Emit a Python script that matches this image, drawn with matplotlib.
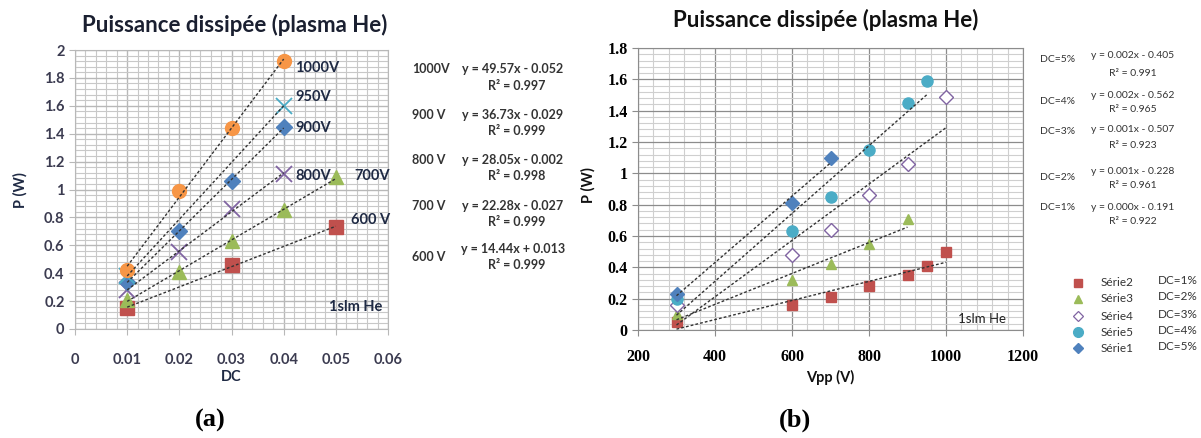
import numpy as np
import matplotlib
matplotlib.use("Agg")
import matplotlib.pyplot as plt
from matplotlib.ticker import MultipleLocator

# ---------------- data (a) ----------------
dc_1000 = [0.01, 0.02, 0.03, 0.04]
p_1000 = [0.42, 0.99, 1.44, 1.92]
dc_950 = [0.01, 0.04]
p_950 = [0.38, 1.60]
dc_900 = [0.01, 0.02, 0.03, 0.04]
p_900 = [0.34, 0.70, 1.06, 1.45]
dc_800 = [0.01, 0.02, 0.03, 0.04]
p_800 = [0.28, 0.55, 0.86, 1.11]
dc_700 = [0.01, 0.02, 0.03, 0.04, 0.05]
p_700 = [0.21, 0.41, 0.63, 0.85, 1.09]
dc_600 = [0.01, 0.03, 0.05]
p_600 = [0.15, 0.46, 0.73]

eq_a_labels = ["1000V", "900 V", "800 V", "700 V", "600 V"]
eq_a_text = ["y = 49.57x - 0.052", "y = 36.73x - 0.029", "y = 28.05x - 0.002",
             "y = 22.28x - 0.027", "y = 14.44x + 0.013"]
r2_a_text = ["R² = 0.997", "R² = 0.999", "R² = 0.998", "R² = 0.999", "R² = 0.999"]

# ---------------- data (b) ----------------
v_s2 = [300, 600, 700, 800, 900, 950, 1000]
p_s2 = [0.05, 0.16, 0.21, 0.28, 0.35, 0.41, 0.50]
v_s3 = [300, 600, 700, 800, 900]
p_s3 = [0.10, 0.32, 0.42, 0.55, 0.71]
v_s4 = [300, 600, 700, 800, 900, 1000]
p_s4 = [0.16, 0.48, 0.64, 0.86, 1.06, 1.49]
v_s5 = [300, 600, 700, 800, 900, 950]
p_s5 = [0.20, 0.63, 0.85, 1.15, 1.45, 1.59]
v_s1 = [300, 600, 700]
p_s1 = [0.23, 0.81, 1.10]

eq_b_labels = ["DC=5%", "DC=4%", "DC=3%", "DC=2%", "DC=1%"]
eq_b_text = ["y = 0.002x - 0.405", "y = 0.002x - 0.562", "y = 0.001x - 0.507",
             "y = 0.001x - 0.228", "y = 0.000x - 0.191"]
r2_b_text = ["R² = 0.991", "R² = 0.965", "R² = 0.923", "R² = 0.961", "R² = 0.922"]

leg_names = ["Série2", "Série3", "Série4", "Série5", "Série1"]
leg_dc = ["DC=1%", "DC=2%", "DC=3%", "DC=4%", "DC=5%"]

# colours
ORANGE = "#F79646"
BLUE = "#4F81BD"
PURPLE = "#8064A2"
GREEN = "#9BBB59"
RED = "#C0504D"
CYAN = "#4BACC6"

W, H = 1201, 438
fig = plt.figure(figsize=(W / 100, H / 100), dpi=100)
fig.patch.set_facecolor("white")

SANS = ["Lato", "DejaVu Sans"]
SERIF = ["Liberation Serif", "DejaVu Serif"]


def px(x, y):
    return x / W, 1 - y / H


def trend(ax, x, y, **kw):
    x = np.asarray(x, float)
    y = np.asarray(y, float)
    m, b = np.polyfit(x, y, 1)
    xs = np.array([x.min(), x.max()])
    ax.plot(xs, m * xs + b, linestyle=(0, (2, 1.5)), color="#333333", lw=1.0, zorder=4, **kw)


# ================= (a) =================
axa = fig.add_axes([75 / W, 1 - 329 / H, (388 - 75) / W, (329 - 50) / H])
axa.set_xlim(0, 0.06)
axa.set_ylim(0, 2)
axa.xaxis.set_major_locator(MultipleLocator(0.01))
axa.xaxis.set_minor_locator(MultipleLocator(0.002))
axa.yaxis.set_major_locator(MultipleLocator(0.2))
axa.yaxis.set_minor_locator(MultipleLocator(0.04))
axa.grid(which="major", color="#b8b8b8", lw=1.0)
axa.grid(which="minor", color="#c8c8c8", lw=0.8)
axa.set_axisbelow(True)
for s in axa.spines.values():
    s.set_color("#b8b8b8")
axa.tick_params(which="minor", length=0)
axa.tick_params(which="major", length=4, color="#b8b8b8", labelsize=10.5, labelcolor="#3b3b50")
axa.set_xticks(np.arange(0, 0.061, 0.01))
axa.set_xticklabels(["0", "0.01", "0.02", "0.03", "0.04", "0.05", "0.06"],
                    fontfamily=SANS, fontweight="bold")
axa.set_yticks(np.arange(0, 2.01, 0.2))
axa.set_yticklabels(["0", "0.2", "0.4", "0.6", "0.8", "1", "1.2", "1.4", "1.6", "1.8", "2"],
                    fontfamily=SANS, fontweight="bold")
axa.tick_params(axis="x", pad=13)

for x, y in [(dc_1000, p_1000), (dc_950, p_950), (dc_900, p_900),
             (dc_800, p_800), (dc_700, p_700), (dc_600, p_600)]:
    trend(axa, x, y)

axa.plot(dc_600, p_600, "s", color=RED, ms=10, zorder=3)
axa.plot(dc_700, p_700, "^", color=GREEN, ms=10, zorder=3)
axa.plot(dc_800, p_800, "x", color=PURPLE, ms=11, mew=1.3, zorder=3)
axa.plot(dc_900, p_900, "D", color=BLUE, ms=8, zorder=3)
axa.plot(dc_950, p_950, "x", color=CYAN, ms=11, mew=1.3, zorder=3)
axa.plot(dc_1000, p_1000, "o", color=ORANGE, ms=10, zorder=3)

lab_kw = dict(fontfamily=SANS, fontweight="bold", fontsize=10.5, color="#1f2a44", va="center")
axa.text(0.0422, 1.87, "1000V", **lab_kw)
axa.text(0.0422, 1.66, "950V", **lab_kw)
axa.text(0.0422, 1.44, "900V", **lab_kw)
axa.text(0.0422, 1.10, "800V", **lab_kw)
axa.text(0.0535, 1.10, "700V", **lab_kw)
axa.text(0.0530, 0.78, "600 V", **lab_kw)
axa.text(0.0487, 0.16, "1slm He", **lab_kw)

fig.text(*px(235, 25), "Puissance dissipée (plasma He)", ha="center", va="center",
         fontfamily=SANS, fontweight="bold", fontsize=16, color="#1a1f30")
fig.text(*px(20, 190), "P (W)", rotation=90, ha="center", va="center",
         fontfamily=SANS, fontweight="bold", fontsize=10.5, color="#1f2a44")
fig.text(*px(231, 377), "DC", ha="center", va="center",
         fontfamily=SANS, fontweight="bold", fontsize=10.5, color="#1f2a44")

eq_y = [(69, 86), (115, 131), (160, 176), (206, 222), (249, 265)]
lab_y = [69, 115, 160, 206, 257]
for lbl, eq, r2, (ey, ry), ly in zip(eq_a_labels, eq_a_text, r2_a_text, eq_y, lab_y):
    fig.text(*px(412, ly), lbl, ha="left", va="center", fontfamily=SANS,
             fontsize=9, color="#333333", fontweight="bold")
    fig.text(*px(513, ey), eq, ha="center", va="center", fontfamily=SANS,
             fontsize=9, color="#333333", fontweight="bold")
    fig.text(*px(517, ry), r2, ha="center", va="center", fontfamily=SANS,
             fontsize=9, color="#333333", fontweight="bold")

fig.text(*px(210, 420), "(a)", ha="center", va="center", fontfamily=SERIF,
         fontweight="bold", fontsize=19)

# ================= (b) =================
axb = fig.add_axes([638 / W, 1 - 330 / H, (1023 - 638) / W, (330 - 48) / H])
axb.set_xlim(200, 1200)
axb.set_ylim(0, 1.8)
axb.xaxis.set_major_locator(MultipleLocator(200))
axb.xaxis.set_minor_locator(MultipleLocator(40))
axb.yaxis.set_major_locator(MultipleLocator(0.2))
axb.yaxis.set_minor_locator(MultipleLocator(0.04))
axb.grid(which="major", color="#8c8c8c", lw=0.9)
axb.grid(which="minor", color="#cfcfcf", lw=0.8)
axb.set_axisbelow(True)
for s in axb.spines.values():
    s.set_color("#8c8c8c")
axb.tick_params(which="minor", length=0)
axb.tick_params(which="major", length=4, color="#8c8c8c", labelsize=11.5)
axb.set_xticks(np.arange(200, 1201, 200))
axb.set_xticklabels(["200", "400", "600", "800", "1000", "1200"],
                    fontfamily=SERIF, fontweight="bold")
axb.set_yticks(np.arange(0, 1.81, 0.2))
axb.set_yticklabels(["0", "0.2", "0.4", "0.6", "0.8", "1", "1.2", "1.4", "1.6", "1.8"],
                    fontfamily=SERIF, fontweight="bold")
axb.tick_params(axis="x", pad=10)

for x, y in [(v_s2, p_s2), (v_s3, p_s3), (v_s4, p_s4), (v_s5, p_s5), (v_s1, p_s1)]:
    trend(axb, x, y)

axb.plot(v_s2, p_s2, "s", color=RED, ms=7.5, zorder=3)
axb.plot(v_s3, p_s3, "^", color=GREEN, ms=7.5, zorder=3)
axb.plot(v_s4, p_s4, "D", mfc="white", mec=PURPLE, ms=7, mew=1.0, zorder=3)
axb.plot(v_s5, p_s5, "o", color=CYAN, ms=8, zorder=3)
axb.plot(v_s1, p_s1, "D", color=BLUE, ms=7, zorder=3)

axb.text(1155, 0.07, "1slm He", ha="right", va="center", fontfamily=SANS,
         fontsize=9.5, color="#222222")

fig.text(*px(826, 20), "Puissance dissipée (plasma He)", ha="center", va="center",
         fontfamily=SANS, fontweight="bold", fontsize=16, color="#111111")
fig.text(*px(588, 185), "P (W)", rotation=90, ha="center", va="center",
         fontfamily=SANS, fontweight="bold", fontsize=10.5, color="#111111")
fig.text(*px(830, 377), "Vpp (V)", ha="center", va="center",
         fontfamily=SANS, fontweight="bold", fontsize=10.5, color="#111111")

eqb_y = [(55, 73), (95, 110), (130, 146), (171, 186), (207, 222)]
labb_y = [59, 101, 131, 177, 207]
for lbl, eq, r2, (ey, ry), ly in zip(eq_b_labels, eq_b_text, r2_b_text, eqb_y, labb_y):
    fig.text(*px(1040, ly), lbl, ha="left", va="center", fontfamily=SANS,
             fontsize=7.5, color="#333333")
    fig.text(*px(1133, ey), eq, ha="center", va="center", fontfamily=SANS,
             fontsize=7.5, color="#333333")
    fig.text(*px(1133, ry), r2, ha="center", va="center", fontfamily=SANS,
             fontsize=7.5, color="#333333")

# legend (drawn manually as a figure-level overlay)
leg_ax = fig.add_axes([0, 0, 1, 1], facecolor="none")
leg_ax.set_xlim(0, W)
leg_ax.set_ylim(H, 0)
leg_ax.axis("off")
leg_rows = [283, 299, 316, 332, 348]
leg_styles = [dict(marker="s", color=RED, ms=6),
              dict(marker="^", color=GREEN, ms=6),
              dict(marker="D", mfc="white", mec=PURPLE, ms=5, mew=0.9, color=PURPLE),
              dict(marker="o", color=CYAN, ms=7),
              dict(marker="D", color=BLUE, ms=5)]
for yy, st, nm, dc in zip(leg_rows, leg_styles, leg_names, leg_dc):
    leg_ax.plot([1078], [yy], linestyle="none", **st)
    leg_ax.text(1101, yy, nm, ha="left", va="center", fontfamily=SANS, fontsize=8.5,
                color="#333333")
    leg_ax.text(1158, yy - 2, dc, ha="left", va="center", fontfamily=SANS, fontsize=8.5,
                color="#333333")

fig.text(*px(795, 420), "(b)", ha="center", va="center", fontfamily=SERIF,
         fontweight="bold", fontsize=19)

fig.savefig("out.png", dpi=100)
